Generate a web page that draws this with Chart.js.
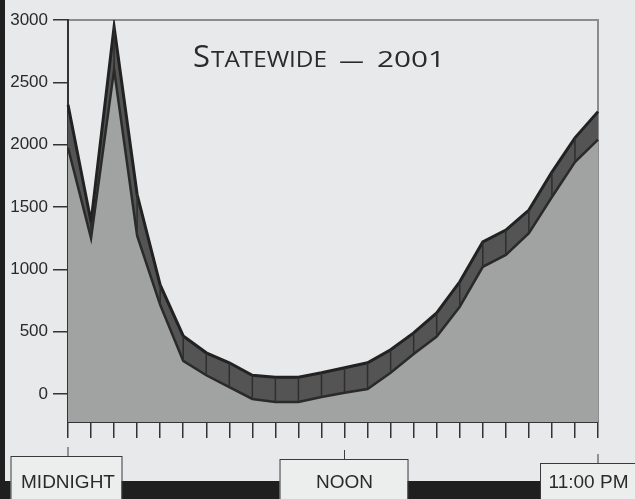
<!DOCTYPE html>
<html>
<head>
<meta charset="utf-8">
<script src="https://cdn.jsdelivr.net/npm/chart.js@4.4.1/dist/chart.umd.min.js"></script>
<style>
    html, body { margin: 0; padding: 0; background: #e7e9ea; }
    #wrap { width: 635px; height: 499px; }
</style>
</head>
<body>
<div id="wrap"><canvas id="stateChart"></canvas></div>
<script>
// hours of the day, one category per hour
const hours = ['MIDNIGHT', '1:00 AM', '2:00 AM', '3:00 AM', '4:00 AM', '5:00 AM', '6:00 AM', '7:00 AM',
    '8:00 AM', '9:00 AM', '10:00 AM', '11:00 AM', 'NOON', '1:00 PM', '2:00 PM', '3:00 PM', '4:00 PM',
    '5:00 PM', '6:00 PM', '7:00 PM', '8:00 PM', '9:00 PM', '10:00 PM', '11:00 PM'];
const shownHours = ['MIDNIGHT', 'NOON', '11:00 PM'];

// front edge of the 3D area and the back (top) edge of the ribbon
const frontValues = [1975, 1250, 2600, 1270, 715, 265, 150, 55, -40, -65, -65, -25,
    10, 40, 170, 320, 460, 700, 1020, 1115, 1290, 1580, 1860, 2040];
const backValues = [2320, 1380, 2945, 1600, 875, 465, 330, 250, 150, 135, 135, 170,
    210, 250, 355, 490, 650, 900, 1220, 1315, 1475, 1780, 2055, 2265];

const yTicks = [0, 500, 1000, 1500, 2000, 2500, 3000];

// title pieces: [text, font, left, right]
const titleParts = [
    ['S', '31px "Open Sans"', 193, 210],
    ['TATEWIDE', '21px "Open Sans"', 211, 327],
    ['\u2013', '21px "Open Sans"', 338, 365],
    ['2001', '21px "Open Sans"', 377, 445]
];

// label box styling: width, shift from the tick, top edge
const labelBoxes = {
    'MIDNIGHT': { w: 111, dx: -2, top: 456 },
    'NOON': { w: 128, dx: -1, top: 459 },
    '11:00 PM': { w: 100, dx: -8, top: 463 }
};

function drawFitted(ctx, text, left, right, baseline) {
    const w = ctx.measureText(text).width;
    ctx.save();
    ctx.translate(left, baseline);
    ctx.scale((right - left) / w, 1);
    ctx.fillText(text, 0, 0);
    ctx.restore();
}

const pagePlugin = {
    id: 'page',
    beforeDraw(chart) {
        const ctx = chart.ctx;
        const area = chart.chartArea;
        const x = chart.scales.x;
        ctx.save();
        // dark strips from the scan
        ctx.fillStyle = '#1f1f1f';
        ctx.fillRect(0, 0, 5, chart.height);
        ctx.fillRect(0, 481, chart.width, chart.height - 481);
        // back wall frame
        ctx.strokeStyle = '#8a8c8d';
        ctx.lineWidth = 2;
        ctx.beginPath();
        ctx.moveTo(area.left, area.top);
        ctx.lineTo(area.right, area.top);
        ctx.lineTo(area.right, area.bottom);
        ctx.stroke();
        // label boxes with their little connector ticks
        hours.forEach((h, i) => {
            if (!shownHours.includes(h)) return;
            const px = x.getPixelForValue(i);
            const b = labelBoxes[h];
            const left = px + b.dx - b.w / 2;
            ctx.fillStyle = '#eceeee';
            ctx.fillRect(left, b.top, b.w, chart.height - b.top);
            ctx.strokeStyle = '#3a3a3a';
            ctx.lineWidth = 1;
            ctx.strokeRect(left + 0.5, b.top + 0.5, b.w, chart.height - b.top + 2);
            ctx.beginPath();
            ctx.moveTo(px, b.top - 9);
            ctx.lineTo(px, b.top);
            ctx.stroke();
        });
        ctx.restore();
    },
    afterDatasetsDraw(chart) {
        const ctx = chart.ctx;
        const front = chart.getDatasetMeta(0).data;
        const back = chart.getDatasetMeta(1).data;
        ctx.save();
        ctx.strokeStyle = '#2e2e2e';
        ctx.lineWidth = 1.5;
        for (let i = 1; i < front.length - 1; i++) {
            ctx.beginPath();
            ctx.moveTo(back[i].x, back[i].y);
            ctx.lineTo(front[i].x, front[i].y);
            ctx.stroke();
        }
        ctx.restore();
    },
    afterDraw(chart) {
        const ctx = chart.ctx;
        ctx.save();
        ctx.fillStyle = '#2b2b2b';
        ctx.textBaseline = 'alphabetic';
        titleParts.forEach(([text, font, left, right]) => {
            ctx.font = font;
            const base = text === '\u2013' ? 68 : 67;
            drawFitted(ctx, text, left, right, base);
        });
        ctx.restore();
    }
};

const ctx = document.getElementById('stateChart').getContext('2d');
const stateChart = new Chart(ctx, {
    type: 'line',
    data: {
        labels: hours,
        datasets: [{
            label: 'Front',
            data: frontValues,
            borderColor: '#2a2a2a',
            borderWidth: 2.5,
            backgroundColor: '#a1a2a2',
            fill: 'start',
            pointRadius: 0,
            tension: 0
        }, {
            label: 'Back',
            data: backValues,
            borderColor: '#222',
            borderWidth: 3,
            backgroundColor: '#545454',
            fill: 0,
            pointRadius: 0,
            tension: 0
        }]
    },
    options: {
        responsive: true,
        maintainAspectRatio: false,
        animation: false,
        layout: { padding: { top: 20, right: 37, left: 0, bottom: 0 } },
        plugins: {
            legend: { display: false },
            tooltip: { enabled: false },
            title: { display: false }
        },
        scales: {
            x: {
                offset: false,
                grid: { drawOnChartArea: false, tickLength: 16, color: '#333', lineWidth: 1.5 },
                border: { color: '#333', width: 2 },
                afterFit: axis => {
                    axis.height = 77;
                    axis.paddingLeft = 0;
                    axis.paddingRight = 0;
                },
                ticks: {
                    autoSkip: false,
                    maxRotation: 0,
                    padding: 33,
                    color: '#2a2a2a',
                    font: { family: 'Liberation Sans', size: 19 },
                    callback: function(value) {
                        const h = hours[value];
                        if (!shownHours.includes(h)) return '';
                        // the last label sits inside the page edge
                        return value === hours.length - 1 ? h + '\u2002\u2002' : h;
                    }
                }
            },
            y: {
                min: -225,
                max: 3000,
                afterFit: axis => { axis.width = 68; },
                afterBuildTicks: axis => { axis.ticks = yTicks.map(v => ({ value: v })); },
                grid: { drawOnChartArea: false, tickLength: 15, color: '#333', lineWidth: 1.5 },
                border: { color: '#333', width: 2 },
                ticks: {
                    padding: 5,
                    color: '#2a2a2a',
                    font: { family: 'Liberation Sans', size: 17 },
                    callback: value => String(value)
                }
            }
        }
    },
    plugins: [pagePlugin]
});
</script>
</body>
</html>
